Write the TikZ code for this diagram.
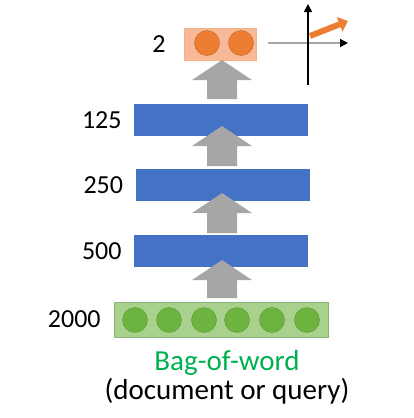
\documentclass[tikz,border=0pt]{standalone}
\usepackage{fontspec}
\setmainfont{Carlito}
\usepackage{tikz}
\usetikzlibrary{positioning,arrows.meta,calc}
\definecolor{barblue}{HTML}{4472C4}
\definecolor{arrowgray}{HTML}{A6A6A6}
\definecolor{boxorange}{HTML}{F8B999}
\definecolor{dotorange}{HTML}{ED7D31}
\definecolor{boxgreen}{HTML}{A9D18E}
\definecolor{dotgreen}{HTML}{6DB33F}
\definecolor{wordgreen}{HTML}{00B050}
\newcommand{\grayarrow}[2]{% bottom y, tip y
  \fill[arrowgray] (207,#1) -- (237,#1) -- (237,#2+20) -- (252,#2+20)
    -- (222,#2) -- (192,#2+20) -- (207,#2+20) -- cycle;}

\begin{document}
\begin{tikzpicture}[x=1pt,y=-1pt,
    bluebar/.style={fill=barblue,minimum width=174pt,minimum height=32pt,inner sep=0pt},
    lbl/.style={inner sep=0pt,font=\fontsize{26}{30}\selectfont},
    captxt/.style={inner sep=0pt,font=\fontsize{29}{33}\selectfont},
    dot/.style={circle,minimum size=25pt,inner sep=0pt}]
    \useasboundingbox (0,0) rectangle (413,418);
    % layers
    \node[fill=boxorange,draw=dotorange!60,minimum width=72pt,minimum height=32pt,inner sep=0pt] (out) at (220,44) {};
    \node[bluebar] (h1) at (221,120) {};
    \node[bluebar] (h2) at (222.5,185) {};
    \node[bluebar] (h3) at (221,251) {};
    \node[fill=boxgreen,draw=boxgreen!85!black,minimum width=214pt,minimum height=35pt,inner sep=0pt] (in) at (221,319.5) {};
    \foreach \x in {207,241}
      \node[dot,fill=dotorange,draw=dotorange!80!black] at (\x,43) {};
    \foreach \x in {135,169,204,237,272,307}
      \node[dot,fill=dotgreen,draw=dotgreen!85!black] at (\x,320) {};
    % sizes
    \node[lbl,left=18pt of out] {2};
    \node[lbl,left=12pt of h1] {125};
    \node[lbl,left=12pt of h2] {250};
    \node[lbl,left=12pt of h3] {500};
    \node[lbl,left=13pt of in] {2000};
    % arrows
    \grayarrow{99}{60}
    \grayarrow{166}{126}
    \grayarrow{233}{193}
    \grayarrow{298}{260}
    % vector space
    \coordinate (o) at (308,43);
    \draw[arrowgray,line width=1.5pt] (268,43) -- (340,43);
    \draw[-{Triangle[length=8pt,width=8pt]},line width=1.5pt] (340,43) -- (348,43);
    \draw[-{Triangle[length=8pt,width=8pt]},line width=1.5pt] (308,85) -- (308,4);
    \draw[dotorange,line width=6pt,-{Triangle[length=9pt,width=15pt]}] (310,36) -- (348,21);
    % caption
    \node[captxt,text=wordgreen] (bow) at (227,363) {Bag-of-word};
    \node[captxt] (src) at (227,391) {(document or query)};
\end{tikzpicture}
\end{document}
